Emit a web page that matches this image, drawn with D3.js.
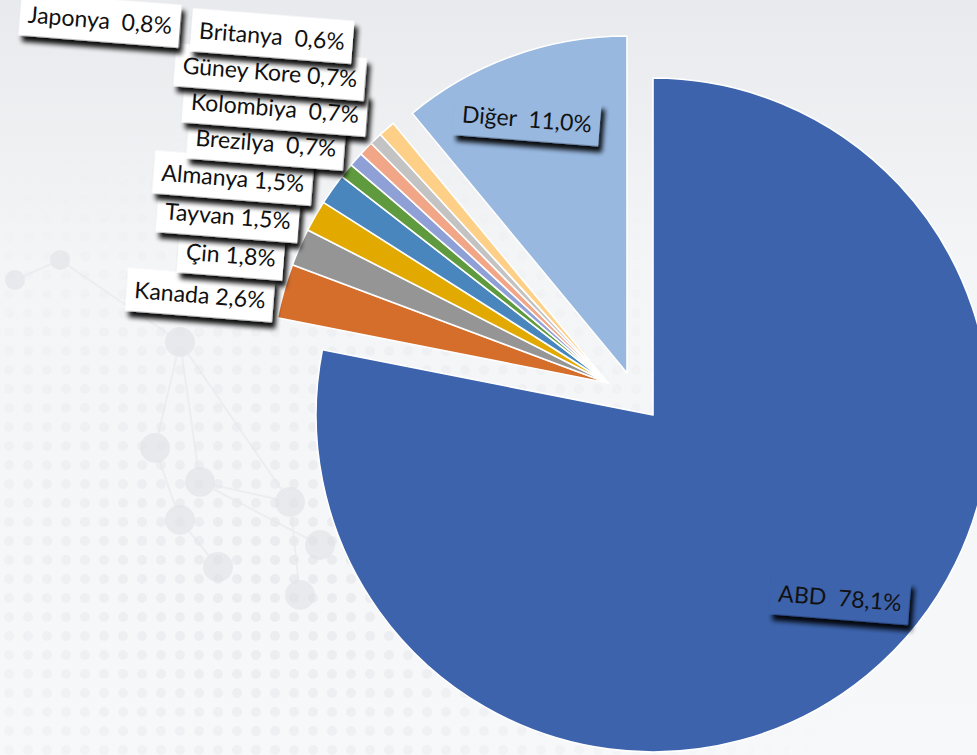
<!DOCTYPE html>
<html>
<head>
<meta charset="utf-8">
<script src="https://cdn.jsdelivr.net/npm/d3@7"></script>
<style>
  html, body { margin: 0; padding: 0; background: #f5f6f8; }
  svg { display: block; }
</style>
</head>
<body>
<div id="chart"></div>
<script>
// data
var countries = ['ABD', 'Kanada', 'Çin', 'Tayvan', 'Almanya', 'Brezilya', 'Kolombiya', 'Güney Kore', 'Britanya', 'Japonya', 'Diğer'];
var shares = [78.1, 2.6, 1.8, 1.5, 1.5, 0.7, 0.7, 0.7, 0.6, 0.8, 11.0];
var colors = ['#3c63ac', '#d56d2b', '#959595', '#e2aa00', '#4a86be', '#5f9b3e', '#8fa0d6', '#f1a687', '#c3c3c3', '#fecf86', '#98b8e0'];

// layout (pixels)
var W = 977, H = 755, R = 337;
var centers = { ABD: [653, 415], 'Diğer': [627, 373], other: [608, 383] };
var labelAt = {
  'ABD': [840, 598], 'Diğer': [527, 119], 'Kanada': [200, 295], 'Çin': [231, 255],
  'Tayvan': [228, 216], 'Almanya': [233, 178], 'Brezilya': [266, 143],
  'Kolombiya': [275, 108], 'Güney Kore': [270, 72], 'Britanya': [272, 36], 'Japonya': [100, 20]
};
var labelTilt = 4.5;

var data = countries.map(function (c, i) { return { name: c, value: shares[i], color: colors[i] }; });
var fmt = function (v) { return v.toFixed(1).replace('.', ',') + '%'; };

var svg = d3.select('#chart').append('svg').attr('width', W).attr('height', H);
var defs = svg.append('defs');

// background
var bg = defs.append('linearGradient').attr('id', 'bg').attr('x1', 0).attr('y1', 0).attr('x2', 0).attr('y2', 1);
bg.append('stop').attr('offset', '0%').attr('stop-color', '#e9eaed');
bg.append('stop').attr('offset', '35%').attr('stop-color', '#f4f5f7');
bg.append('stop').attr('offset', '100%').attr('stop-color', '#f7f8fa');
svg.append('rect').attr('width', W).attr('height', H).attr('fill', 'url(#bg)');

var pat = defs.append('pattern').attr('id', 'dots').attr('width', 19).attr('height', 19).attr('patternUnits', 'userSpaceOnUse');
pat.append('circle').attr('cx', 9).attr('cy', 9).attr('r', 5).attr('fill', '#e4e6ea');
var rg = defs.append('radialGradient').attr('id', 'fade').attr('cx', 0.3).attr('cy', 0.75).attr('r', 0.6);
rg.append('stop').attr('offset', '0%').attr('stop-color', '#fff').attr('stop-opacity', 1);
rg.append('stop').attr('offset', '100%').attr('stop-color', '#fff').attr('stop-opacity', 0);
var mask = defs.append('mask').attr('id', 'm');
mask.append('rect').attr('width', W).attr('height', H).attr('fill', 'url(#fade)');
svg.append('rect').attr('width', W).attr('height', H).attr('fill', 'url(#dots)').attr('mask', 'url(#m)').attr('opacity', 0.7);

// faint network nodes
var nodes = [[180, 342], [155, 448], [200, 482], [180, 520], [290, 502], [218, 567], [300, 595], [320, 545], [60, 260], [15, 280]];
var net = svg.append('g').attr('stroke', '#e6e8ec').attr('stroke-width', 2).attr('fill', '#e0e2e6').attr('opacity', 0.6);
[[0, 1], [0, 2], [0, 8], [1, 3], [2, 4], [3, 5], [4, 6], [2, 7], [8, 9], [0, 4]].forEach(function (e) {
  net.append('line').attr('x1', nodes[e[0]][0]).attr('y1', nodes[e[0]][1]).attr('x2', nodes[e[1]][0]).attr('y2', nodes[e[1]][1]);
});
nodes.forEach(function (n, i) {
  net.append('circle').attr('cx', n[0]).attr('cy', n[1]).attr('r', i < 8 ? 15 : 10).attr('stroke', 'none');
});

// shadow for labels
var f = defs.append('filter').attr('id', 'shadow').attr('x', '-20%').attr('y', '-30%').attr('width', '150%').attr('height', '180%');
f.append('feGaussianBlur').attr('in', 'SourceAlpha').attr('stdDeviation', 2.5);
f.append('feOffset').attr('dx', 4).attr('dy', 6).attr('result', 'b');
f.append('feComponentTransfer').append('feFuncA').attr('type', 'linear').attr('slope', 0.95);
var fm = f.append('feMerge');
fm.append('feMergeNode');
fm.append('feMergeNode').attr('in', 'SourceGraphic');

// pie
var pie = d3.pie().sort(null).value(function (d) { return d.value; }).startAngle(0).endAngle(2 * Math.PI);
var arc = d3.arc().innerRadius(0).outerRadius(R);
var arcs = pie(data);

var centerOf = function (d) { return centers[d.data.name] || centers.other; };

svg.append('g').selectAll('path').data(arcs).enter().append('path')
  .attr('transform', function (d) { return 'translate(' + centerOf(d) + ')'; })
  .attr('d', arc)
  .attr('fill', function (d) { return d.data.color; })
  .attr('stroke', '#fff').attr('stroke-width', 1.6).attr('stroke-linejoin', 'round');

// labels
var lab = svg.append('g').selectAll('g').data(arcs).enter().append('g')
  .attr('transform', function (d) {
    var p = labelAt[d.data.name];
    return 'translate(' + p + ') rotate(' + labelTilt + ')';
  });

lab.each(function (d) {
  var g = d3.select(this);
  var big = d.data.name === 'ABD' || d.data.name === 'Diğer';
  var gap = (d.data.name === 'Kanada' || d.data.name === 'Çin' || d.data.name === 'Tayvan' || d.data.name === 'Almanya' || d.data.name === 'Güney Kore') ? ' ' : '\u00a0 ';
  var box = g.append('rect').attr('fill', big ? d.data.color : '#fff').attr('filter', 'url(#shadow)');
  var t = g.append('text')
    .attr('text-anchor', 'middle').attr('dy', '0.36em')
    .style('font-family', 'Lato, "Open Sans", sans-serif').style('font-size', '23px').attr('fill', '#111')
    .text(d.data.name + gap + fmt(d.data.value));
  var w = t.node().getComputedTextLength() + 16, h = 43;
  box.attr('x', -w / 2).attr('y', -h / 2).attr('width', w).attr('height', h);
});
</script>
</body>
</html>
